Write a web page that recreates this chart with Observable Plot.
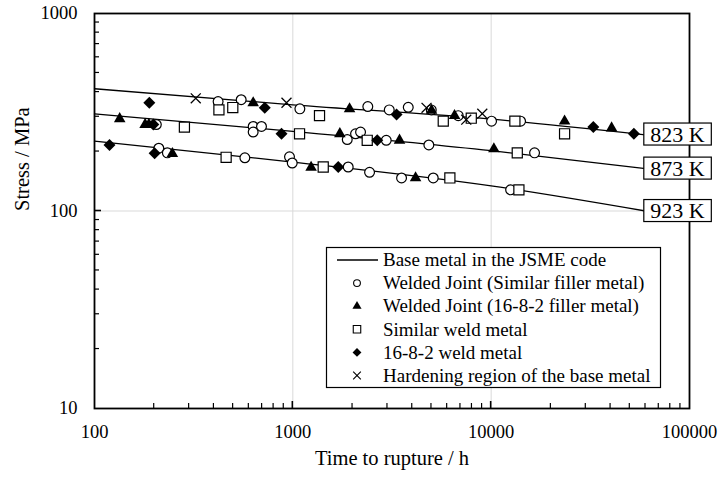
<!DOCTYPE html>
<html><head><meta charset="utf-8">
<script src="https://cdn.jsdelivr.net/npm/d3@7"></script>
<script src="https://cdn.jsdelivr.net/npm/@observablehq/plot@0.6"></script>
<style>
html,body{margin:0;padding:0;background:#fff;}
#wrap{position:relative;width:721px;height:477px;}
#legend{position:absolute;left:0;top:0;pointer-events:none;}
</style></head><body><div id="wrap"></div>
<script>
// ---- Data (time to rupture in h, stress in MPa) ----
// Welded Joint (Similar filler metal) - open circles
const similarJointTime   = [420,549,1085,2388,3063,3819,4988,6823,10046,14070, 205,631,695,631,1881,2071,2195,2958,4851,16550, 211,233,573,962,993,1902,2437,3533,5105,12530];
const similarJointStress = [358,366,329,338,325,335,325,304,285,285, 274,268,268,251,230,246,251,228,216,197, 208,197,186,188,175,167,157,147,147,128];
// Welded Joint (16-8-2 filler metal) - filled triangles
const mixedJointTime   = [631,1932,5006,6537,23450,40480, 134,180,188,1726,3451,10320, 247,1236,4158];
const mixedJointStress = [353,329,323,304,285,263, 293,274,274,246,228,206, 195,166,147];
// Similar weld metal - open squares
const similarWeldTime   = [424,498,1363,5734,7937,13170,23450, 284,1081,2372,13540, 461,1423,6191,13800];
const similarWeldStress = [325,334,304,285,295,285,246, 266,246,228,197, 187,167,147,128];
// 16-8-2 weld metal - filled diamonds
const mixedWeldTime   = [189,722,3334,32730,52430, 198,877,2665, 119,201,1694];
const mixedWeldStress = [353,333,308,266,246, 274,246,228, 216,196,167];
// Hardening region of the base metal - crosses
const hardeningTime   = [324,929,4722,7488,9020];
const hardeningStress = [372,353,333,290,311];
// Base metal in the JSME code (curves read at these times)
const curveTime = [100, 1000, 10000, 60000];
const curve823 = [416, 345, 292, 243];
const curve873 = [310, 253, 202, 164];
const curve923 = [226, 177, 134, 100];
// Temperature labels
const tempLabels = ["823 K", "873 K", "923 K"];
const tempLabelTime = 87000;
const tempLabelStress = [244, 164, 100];
// Axes
const xTicks = [100, 1000, 10000, 100000];
const yTicks = [10, 100, 1000];
const gridX = [1000, 10000];
const gridY = [100];
const xTitle = "Time to rupture / h";
const yTitle = "Stress / MPa";
const legendItems = [
  "Base metal in the JSME code",
  "Welded Joint (Similar filler metal)",
  "Welded Joint (16-8-2 filler metal)",
  "Similar weld metal",
  "16-8-2 weld metal",
  "Hardening region of the base metal"
];

// ---- Build tables ----
const pts = (T, S) => T.map((t, i) => ({t, s: S[i]}));
const curves = [];
[["823 K", curve823], ["873 K", curve873], ["923 K", curve923]].forEach(([temp, arr]) =>
  arr.forEach((s, i) => curves.push({temp, t: curveTime[i], s})));
const xMinor = [], yMinor = [];
[100, 1000, 10000].forEach(d => { for (let k = 2; k <= 9; k++) xMinor.push(k * d); });
[10, 100].forEach(d => { for (let k = 2; k <= 9; k++) yMinor.push(k * d); });
const xMajor = [1000, 10000];
const yMajor = [100];

const FONT = "'Liberation Serif', 'Times New Roman', Times, serif";

const chart = Plot.plot({
  width: 721, height: 477,
  marginLeft: 94, marginRight: 32, marginTop: 13, marginBottom: 69,
  style: {fontFamily: FONT, fontSize: "18px", color: "black", background: "white", overflow: "visible"},
  x: {type: "log", domain: [100, 100000]},
  y: {type: "log", domain: [10, 1000]},
  marks: [
    Plot.ruleX(gridX, {stroke: "#d9d9d9", strokeWidth: 1}),
    Plot.ruleY(gridY, {stroke: "#d9d9d9", strokeWidth: 1}),
    Plot.line(curves, {x: "t", y: "s", z: "temp", stroke: "black", strokeWidth: 1.3, curve: "monotone-x"}),
    Plot.dot(pts(similarJointTime, similarJointStress), {x: "t", y: "s", symbol: "circle", r: 4.9, fill: "white", stroke: "black", strokeWidth: 1.2}),
    Plot.dot(pts(similarWeldTime, similarWeldStress), {x: "t", y: "s", symbol: "square", r: 5.7, fill: "white", stroke: "black", strokeWidth: 1.2}),
    Plot.dot(pts(mixedJointTime, mixedJointStress), {x: "t", y: "s", symbol: "triangle", r: 4.3, fill: "black", stroke: "none"}),
    Plot.dot(pts(mixedWeldTime, mixedWeldStress), {x: "t", y: "s", symbol: "diamond2", r: 5.4, fill: "black", stroke: "none"}),
    Plot.dot(pts(hardeningTime, hardeningStress), {x: "t", y: "s", symbol: "times", r: 4.6, fill: "none", stroke: "black", strokeWidth: 1.3}),
    Plot.frame({stroke: "black", strokeWidth: 1.8}),
    Plot.axisX(xTicks, {tickSize: 0, tickPadding: 16, fontSize: 18.5, tickFormat: d => String(d), label: null}),
    Plot.axisY(yTicks, {tickSize: 0, tickPadding: 17, fontSize: 18.5, tickFormat: d => String(d), label: null}),
    Plot.text([xTitle], {text: d => d, frameAnchor: "bottom", dy: 56, fontSize: 20.5}),
    Plot.text([yTitle], {text: d => d, frameAnchor: "left", dx: -72, rotate: -90, fontSize: 20.5}),
    Plot.text(tempLabels, {x: () => tempLabelTime, y: (d, i) => tempLabelStress[i], text: d => d, fontSize: 22, fill: "black"})
  ]
});

const wrap = document.getElementById("wrap");
wrap.appendChild(chart);
const NS = "http://www.w3.org/2000/svg";
const el = (tag, attrs) => { const e = document.createElementNS(NS, tag); for (const k in attrs) e.setAttribute(k, attrs[k]); return e; };

// Inward axis ticks, positioned through Plot's own scales
const xs = chart.scale("x"), ys = chart.scale("y");
const x0 = Math.min(xs.apply(100), xs.apply(100000));
const yBot = Math.max(ys.apply(10), ys.apply(1000));
const tg = el("g", {});
xMinor.forEach(v => { const px = xs.apply(v); tg.appendChild(el("line", {x1: px, x2: px, y1: yBot, y2: yBot - 5, stroke: "black", "stroke-width": 1.2})); });
xMajor.forEach(v => { const px = xs.apply(v); tg.appendChild(el("line", {x1: px, x2: px, y1: yBot, y2: yBot - 7, stroke: "black", "stroke-width": 1.6})); });
yMinor.forEach(v => { const py = ys.apply(v); tg.appendChild(el("line", {x1: x0, x2: x0 + 5, y1: py, y2: py, stroke: "black", "stroke-width": 1.2})); });
yMajor.forEach(v => { const py = ys.apply(v); tg.appendChild(el("line", {x1: x0, x2: x0 + 7, y1: py, y2: py, stroke: "black", "stroke-width": 1.6})); });
chart.appendChild(tg);

// Boxes around temperature labels
chart.querySelectorAll("text").forEach(t => {
  if (!tempLabels.includes(t.textContent.trim())) return;
  const b = t.getBBox();
  const cy = b.y + b.height / 2;
  const r = el("rect", {x: b.x - 6.5, y: cy - 11, width: b.width + 13, height: 22,
    fill: "white", stroke: "black", "stroke-width": 1.2});
  if (t.getAttribute("transform")) r.setAttribute("transform", t.getAttribute("transform"));
  t.parentNode.insertBefore(r, t);
});

// Legend overlay
const lg = d3.create("svg").attr("id", "legend").attr("width", 721).attr("height", 477)
  .style("font-family", FONT);
lg.append("rect").attr("x", 326.5).attr("y", 247.5).attr("width", 334).attr("height", 140)
  .attr("fill", "white").attr("stroke", "black").attr("stroke-width", 1.2);
const rowY = i => 260 + i * 23.1;
const sx = 357;
lg.append("line").attr("x1", 337).attr("x2", 378).attr("y1", rowY(0)).attr("y2", rowY(0))
  .attr("stroke", "black").attr("stroke-width", 1.3);
lg.append("circle").attr("cx", sx).attr("cy", rowY(1)).attr("r", 3.4)
  .attr("fill", "white").attr("stroke", "black").attr("stroke-width", 1.1);
lg.append("path").attr("d", d3.symbol(d3.symbolTriangle, 36)()).attr("transform", `translate(${sx},${rowY(2)})`).attr("fill", "black");
lg.append("path").attr("d", d3.symbol(d3.symbolSquare, 56)()).attr("transform", `translate(${sx},${rowY(3)})`)
  .attr("fill", "white").attr("stroke", "black").attr("stroke-width", 1.1);
lg.append("path").attr("d", d3.symbol(d3.symbolDiamond2, 50)()).attr("transform", `translate(${sx},${rowY(4)})`).attr("fill", "black");
lg.append("path").attr("d", d3.symbol(d3.symbolTimes, 40)()).attr("transform", `translate(${sx},${rowY(5)})`)
  .attr("fill", "none").attr("stroke", "black").attr("stroke-width", 1.1);
legendItems.forEach((txt, i) => {
  lg.append("text").attr("x", 383).attr("y", rowY(i)).attr("dy", "0.33em")
    .attr("font-size", 19).attr("fill", "black").text(txt);
});
wrap.appendChild(lg.node());
</script>
</body></html>
